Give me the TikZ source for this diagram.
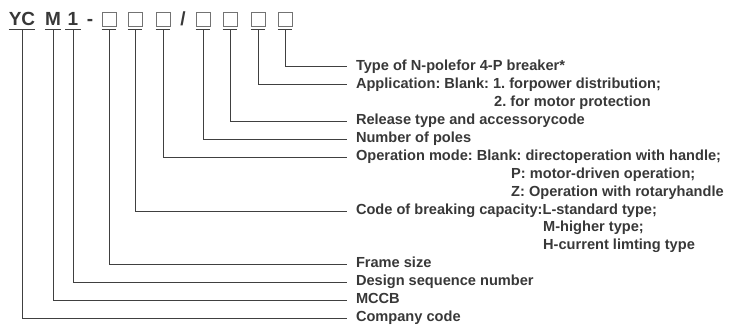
\documentclass[tikz,border=0pt]{standalone}
\usepackage{fontspec}
\setmainfont{Liberation Sans}
\usetikzlibrary{positioning}

\begin{document}
\frenchspacing
\begin{tikzpicture}[
    x=1pt, y=-1pt,
    every node/.style={font=\bfseries\fontsize{14.6}{17}\selectfont, text=black!78},
    code/.style={anchor=south, font=\bfseries\fontsize{19}{19}\selectfont, inner sep=0, minimum width=15pt, text height=13.5pt, text depth=4.5pt},
    slot/.style={anchor=south, draw=black!55, line width=0.8pt, inner sep=0, minimum size=14pt, outer ysep=4pt},
    lab/.style={anchor=west, inner sep=0, outer xsep=9pt, text height=10.5pt, text depth=3pt},
    more/.style={anchor=west, inner sep=0, text height=10.5pt, text depth=3pt},
    leader/.style={draw=black!75, line width=1pt}
]
\useasboundingbox (0,0) rectangle (731,329);

% type designation
\node[code] (yc) at (22,30) {YC};
\node[code] (m) at (53,30) {M};
\node[code] (one) at (73,30) {1};
\node[code] (dash) at (90,30) {-};
\node[slot] (s1) at (109,30) {};
\node[slot] (s2) at (135,30) {};
\node[slot] (s3) at (163,30) {};
\node[code] (slash) at (183,30) {/};
\node[slot] (s4) at (203,30) {};
\node[slot] (s5) at (230,30) {};
\node[slot] (s6) at (258,30) {};
\node[slot] (s7) at (285,30) {};

% explanations
\node[lab] (ntype) at (347,67) {Type of N-polefor 4-P breaker*};
\node[lab] (application) at (347,85) {Application: Blank: 1. forpower distribution;};
\node[more] (application2) at (494,103) {2. for motor protection};
\node[lab] (release) at (347,121) {Release type and accessorycode};
\node[lab] (poles) at (347,139) {Number of poles};
\node[lab] (operation) at (347,157) {Operation mode: Blank: directoperation with handle;};
\node[more] (operation2) at (511,175) {P: motor-driven operation;};
\node[more] (operation3) at (511,193) {Z: Operation with rotaryhandle};
\node[lab] (breaking) at (347,211) {Code of breaking capacity:L-standard type;};
\node[more] (breaking2) at (543,228) {M-higher type;};
\node[more] (breaking3) at (543,246) {H-current limting type};
\node[lab] (frame) at (347,264) {Frame size};
\node[lab] (design) at (347,282) {Design sequence number};
\node[lab] (mccb) at (347,300) {MCCB};
\node[lab] (company) at (347,318) {Company code};

% underlines and leaders
\foreach \c/\l in {yc/company, m/mccb, one/design, s1/frame, s2/breaking, s3/operation, s4/poles, s5/release, s6/application, s7/ntype} {
    \draw[leader] (\c.south west) -- (\c.south east);
    \draw[leader] (\c.south) |- (\l.west);
}
\end{tikzpicture}
\end{document}
